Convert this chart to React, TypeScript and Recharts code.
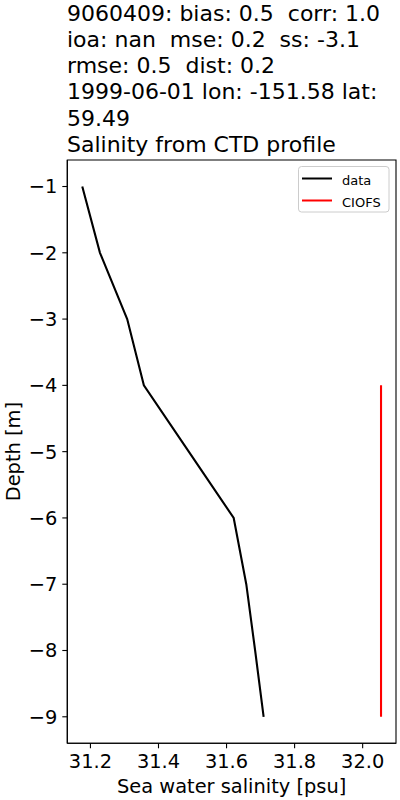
import React from 'react';
import { LineChart, Line, XAxis, YAxis, Legend, ReferenceArea, Label } from 'recharts';

const obsDepth = [-1, -2, -3, -4, -5, -6, -7, -8, -9];
const obsSalinity = [31.176, 31.228, 31.308, 31.357, 31.489, 31.621, 31.658, 31.684, 31.709];
const modelDepth = [-4, -5, -6, -7, -8, -9];
const modelSalinity = [32.054, 32.054, 32.054, 32.054, 32.054, 32.054];
const seriesNames = ['data', 'CIOFS'];
const xTicks = [31.2, 31.4, 31.6, 31.8, 32.0];
const yTicks = [-9, -8, -7, -6, -5, -4, -3, -2, -1];
const xDomain = [31.132, 32.098];
const yDomain = [-9.4, -0.6];
const titleLines = [
  '9060409: bias: 0.5  corr: 1.0',
  'ioa: nan  mse: 0.2  ss: -3.1',
  'rmse: 0.5  dist: 0.2',
  '1999-06-01 lon: -151.58 lat:',
  '59.49',
  'Salinity from CTD profile',
];

const obsData = obsDepth.map((d, i) => ({ depth: d, sal: obsSalinity[i] }));
const modelData = modelDepth.map((d, i) => ({ depth: d, sal: modelSalinity[i] }));

const FONT = '"DejaVu Sans", sans-serif';

const fmtY = (v: number) => (v < 0 ? '\u2212' + Math.abs(v) : String(v));
const fmtX = (v: number) => v.toFixed(1);

const LegendBox = (props: any) => {
  const payload = [...((props.payload || []) as any[])].sort(
    (a, b) => seriesNames.indexOf(a.value) - seriesNames.indexOf(b.value)
  );
  return (
    <svg width={92} height={47} style={{ display: 'block' }}>
      <rect x={0.5} y={0.5} width={90.5} height={45.5} rx={3} ry={3} fill="#ffffff" stroke="#cccccc" strokeWidth={1} />
      {payload.map((p, i) => (
        <g key={i}>
          <line x1={4} x2={34} y1={12.5 + i * 22} y2={12.5 + i * 22} stroke={p.color} strokeWidth={2} />
          <text x={44} y={18.5 + i * 22} fontSize={13} fontFamily={FONT} fill="#000">
            {p.value}
          </text>
        </g>
      ))}
    </svg>
  );
};

export default function App() {
  return (
    <div style={{ position: 'absolute', left: 0, top: 0, width: 400, height: 800, background: '#fff' }}>
      <svg width={400} height={160} style={{ position: 'absolute', left: 0, top: 0 }}>
        {titleLines.map((t, i) => (
          <text
            key={i}
            x={67}
            y={20.7 + i * 26.2}
            fontSize={22}
            fontFamily={FONT}
            fill="#000"
            style={{ whiteSpace: 'pre' }}
          >
            {t}
          </text>
        ))}
      </svg>
      <div style={{ position: 'absolute', left: 0, top: 0 }}>
        <LineChart width={400} height={800} margin={{ top: 160, right: 4, bottom: 0, left: 0 }}>
          <XAxis
            type="number"
            dataKey="sal"
            domain={xDomain}
            ticks={xTicks}
            allowDataOverflow
            tickFormatter={fmtX}
            height={56.7}
            tickSize={5}
            tickMargin={6}
            stroke="#000"
            tick={{ fill: '#000', fontSize: 19.4, fontFamily: FONT }}
            axisLine={{ stroke: '#000', strokeWidth: 1.1 }}
            tickLine={{ stroke: '#000', strokeWidth: 1.1 }}
          >
            <Label
              content={(p: any) => {
                const vb = p.viewBox || {};
                return (
                  <text
                    x={vb.x + vb.width / 2}
                    y={vb.y + 49.4}
                    textAnchor="middle"
                    fontSize={19.4}
                    fontFamily={FONT}
                    fill="#000"
                  >
                    Sea water salinity [psu]
                  </text>
                );
              }}
            />
          </XAxis>
          <YAxis
            type="number"
            dataKey="depth"
            domain={yDomain}
            ticks={yTicks}
            allowDataOverflow
            tickFormatter={fmtY}
            width={67.3}
            tickSize={5}
            tickMargin={5}
            stroke="#000"
            tick={{ fill: '#000', fontSize: 19.4, fontFamily: FONT }}
            axisLine={{ stroke: '#000', strokeWidth: 1.1 }}
            tickLine={{ stroke: '#000', strokeWidth: 1.1 }}
          >
            <Label
              content={(p: any) => {
                const vb = p.viewBox || {};
                const cy = vb.y + vb.height / 2;
                return (
                  <text
                    x={20}
                    y={cy}
                    transform={`rotate(-90, 20, ${cy})`}
                    textAnchor="middle"
                    fontSize={19.4}
                    fontFamily={FONT}
                    fill="#000"
                  >
                    Depth [m]
                  </text>
                );
              }}
            />
          </YAxis>
          <ReferenceArea
            x1={xDomain[0]}
            x2={xDomain[1]}
            y1={yDomain[0]}
            y2={yDomain[1]}
            fill="none"
            fillOpacity={0}
            stroke="#000"
            strokeWidth={1.1}
            ifOverflow="visible"
          />
          <Line
            data={obsData}
            dataKey="depth"
            name={seriesNames[0]}
            type="linear"
            stroke="#000000"
            strokeWidth={2.1}
            dot={false}
            activeDot={false}
            isAnimationActive={false}
          />
          <Line
            data={modelData}
            dataKey="depth"
            name={seriesNames[1]}
            type="linear"
            stroke="#ff0000"
            strokeWidth={2.1}
            dot={false}
            activeDot={false}
            isAnimationActive={false}
          />
          <Legend
            layout="vertical"
            align="center"
            verticalAlign="middle"
            content={LegendBox}
            wrapperStyle={{ position: 'absolute', left: 298, top: 166, width: 92, height: 47, margin: 0, padding: 0 }}
          />
        </LineChart>
      </div>
    </div>
  );
}
